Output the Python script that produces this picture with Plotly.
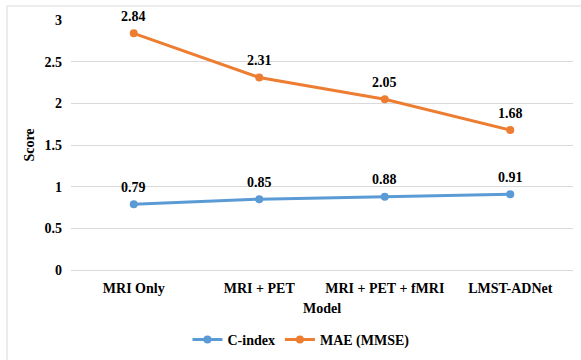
import plotly.graph_objects as go

categories = ["MRI Only", "MRI + PET", "MRI + PET + fMRI", "LMST-ADNet"]
c_index = [0.79, 0.85, 0.88, 0.91]
mae_mmse = [2.84, 2.31, 2.05, 1.68]
y_ticks = [0, 0.5, 1, 1.5, 2, 2.5, 3]
y_tick_labels = ["0", "0.5", "1", "1.5", "2", "2.5", "3"]

BLUE = "#5B9BD5"
ORANGE = "#ED7D31"
FONT = "Times New Roman, Liberation Serif, serif"


def f(size=13):
    return dict(family=FONT, size=size, color="black", weight="bold")


fig = go.Figure()
fig.add_trace(go.Scatter(
    x=categories, y=c_index, name="C-index", mode="lines+markers",
    line=dict(color=BLUE, width=3), marker=dict(size=8, color=BLUE),
))
fig.add_trace(go.Scatter(
    x=categories, y=mae_mmse, name="MAE (MMSE)", mode="lines+markers",
    line=dict(color=ORANGE, width=3), marker=dict(size=8, color=ORANGE),
))

annotations = []
for series in (c_index, mae_mmse):
    for c, v in zip(categories, series):
        annotations.append(dict(
            x=c, y=v, xref="x", yref="y", text=f"{v:.2f}",
            showarrow=False, yshift=17, font=f(14),
        ))

fig.update_layout(
    width=581, height=360,
    margin=dict(l=71, r=8, t=20, b=90, autoexpand=False),
    paper_bgcolor="white", plot_bgcolor="white",
    font=f(),
    showlegend=True,
    legend=dict(
        orientation="h", x=0.232, xanchor="left", y=-(340 - 270) / 250, yanchor="middle",
        font=f(14), itemwidth=30, tracegroupgap=0,
    ),
    annotations=annotations,
    xaxis=dict(
        type="category", range=[-0.5, 3.5], automargin=False,
        showgrid=False, showline=False, zeroline=False,
        ticks="", tickfont=f(14), ticklabelstandoff=8,
        title=dict(text="Model", standoff=8, font=f(14)),
    ),
    yaxis=dict(
        range=[0, 3], tickvals=y_ticks, ticktext=y_tick_labels, automargin=False,
        showgrid=True, gridcolor="#D9D9D9", gridwidth=1,
        zeroline=True, zerolinecolor="#D9D9D9", zerolinewidth=1,
        showline=False, ticks="", ticklabelstandoff=8,
        tickfont=f(14),
        title=dict(text="Score", standoff=6, font=f(14)),
    ),
    shapes=[
        dict(type="line", xref="paper", yref="paper",
             x0=(7 - 71) / 502, x1=1.02, y0=(270 - 6) / 250, y1=(270 - 6) / 250,
             line=dict(color="#D9D9D9", width=1)),
        dict(type="line", xref="paper", yref="paper",
             x0=(7 - 71) / 502, x1=(7 - 71) / 502, y0=(270 - 6) / 250, y1=-0.4,
             line=dict(color="#D9D9D9", width=1)),
    ],
)

fig.write_html("out.html")
